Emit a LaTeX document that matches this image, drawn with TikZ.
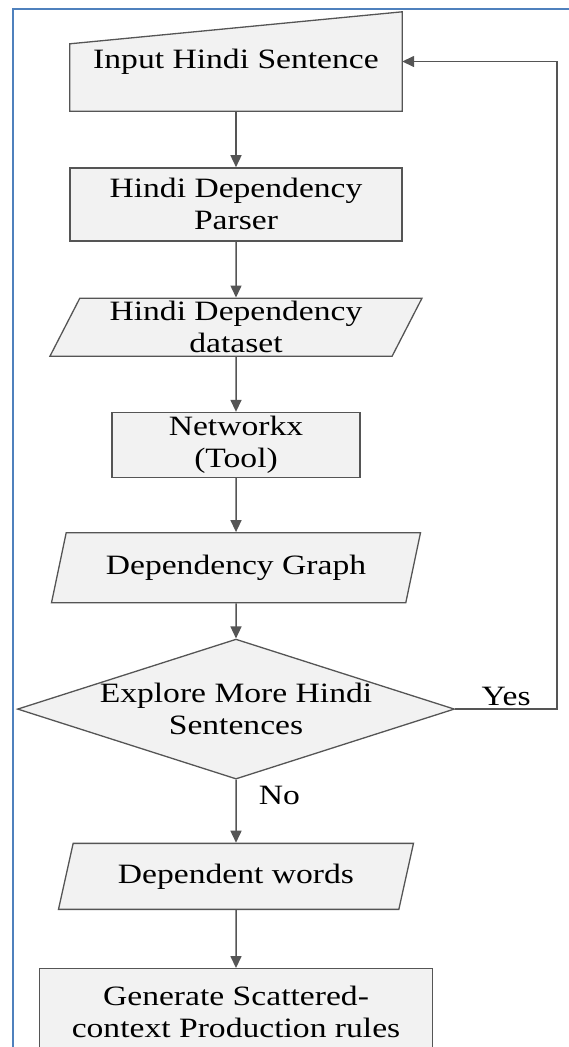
\documentclass[tikz,border=0pt]{standalone}
\usepackage{fontspec}
\setmainfont{Liberation Serif}[FakeStretch=1.2]
\usetikzlibrary{shapes.geometric,arrows.meta,positioning,calc,backgrounds}

\definecolor{boxfill}{HTML}{F2F2F2}
\definecolor{boxline}{HTML}{555555}
\definecolor{frameblue}{HTML}{4F81BD}

\begin{document}
\begin{tikzpicture}[font=\fontsize{28}{32}\selectfont]
\tikzstyle{base} = [draw=boxline, fill=boxfill, line width=1.3pt, inner sep=0pt, align=center]
\tikzstyle{block} = [base, rectangle]
\tikzstyle{io} = [base, trapezium, trapezium left angle=60, trapezium right angle=120,
    trapezium stretches body]
\tikzstyle{decision} = [base, diamond]
\tikzstyle{line} = [draw=boxline, line width=1.5pt, -{Triangle[length=12pt,width=11pt]}]

\useasboundingbox (0,0) rectangle (568pt,-1047pt);

% frame
\draw[frameblue, line width=1.5pt] (13pt,-1060pt) -- (13pt,-9pt) -- (580pt,-9pt);

\node [align=center, minimum width=332pt, minimum height=99pt, inner sep=0pt] (input) at (236pt,-61.5pt) {\raisebox{-2pt}{Input Hindi Sentence}};
\begin{scope}[on background layer]
\draw [base] (input.south west) -- (input.south east) -- (input.north east)
    -- ($(input.north west)+(0,-32pt)$) -- cycle;
\end{scope}
\node [block, below=56pt of input, minimum width=332pt, minimum height=73pt] (parser) {Hindi Dependency\\Parser};
\node [io, below=56pt of parser, minimum width=372pt, minimum height=58pt] (dataset) {Hindi Dependency\\dataset};
\node [block, below=55pt of dataset, minimum width=248pt, minimum height=65pt] (networkx) {Networkx\\(Tool)};
\node [io, below=54pt of networkx, minimum width=369pt, minimum height=70pt] (graph) {Dependency Graph};
\node [decision, below=35pt of graph, minimum width=437pt, minimum height=140pt,
    label={[align=center]center:Explore More Hindi\\Sentences}] (explore) {};
\node [io, below=63pt of explore, minimum width=355pt, minimum height=66pt] (words) {Dependent words};
\node [block, below=58pt of words, minimum width=393pt, minimum height=86pt] (rules) {Generate Scattered-\\context Production rules};

\path [line] (input) -- (parser);
\path [line] (parser) -- (dataset);
\path [line] (dataset) -- (networkx);
\path [line] (networkx) -- (graph);
\path [line] (graph) -- (explore);
\path [line] (explore) -- node [right=22pt, pos=0.25, inner sep=0pt] {No} (words);
\path [line] (words) -- (rules);

\path [line] (explore.east) -- node [above=3pt, inner sep=0pt] {Yes} ++(102pt,0) |- (input.east);

\end{tikzpicture}
\end{document}
